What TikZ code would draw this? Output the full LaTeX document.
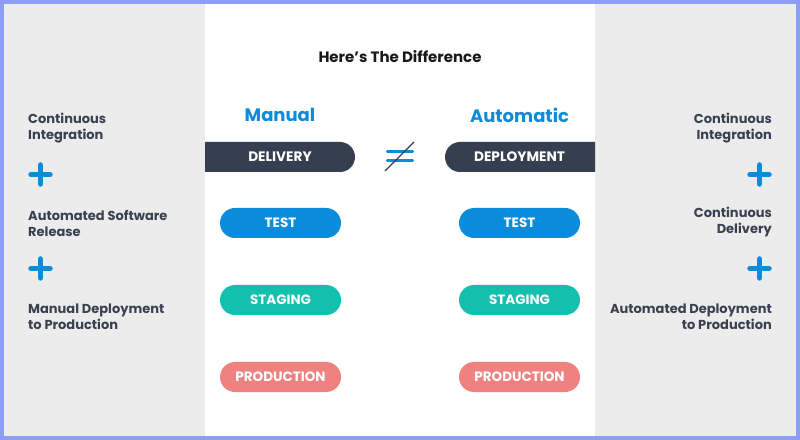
\documentclass[tikz,border=0pt]{standalone}
\usepackage{fontspec}
\setmainfont{Poppins}
\definecolor{bordercol}{HTML}{8E9EF6}
\definecolor{panelgray}{HTML}{ECECEC}
\definecolor{darkbar}{HTML}{363F4F}
\definecolor{labelcol}{HTML}{394150}
\definecolor{bluec}{HTML}{0B8CDB}
\definecolor{tealc}{HTML}{13BFAD}
\definecolor{salmonc}{HTML}{F08181}
\begin{document}
\begin{tikzpicture}[x=1bp,y=-1bp,
  lbl/.style={font=\bfseries\fontsize{13bp}{16bp}\selectfont, text=labelcol, inner sep=0pt},
  pilltext/.style={font=\bfseries\fontsize{13.7bp}{15bp}\selectfont, text=white, inner sep=0pt},
  pill/.style={rectangle, rounded corners=15bp, minimum width=121bp, minimum height=30bp, inner sep=0pt,
    font=\bfseries\fontsize{13.5bp}{15bp}\selectfont, text=white},
  head/.style={font=\bfseries\fontsize{18bp}{20bp}\selectfont, text=bluec, inner sep=0pt},
  plussign/.pic={\draw[bluec, line width=5.5bp, line cap=round] (-9.5,0) -- (9.5,0) (0,-9.5) -- (0,9.5);}
]
\useasboundingbox (0,0) rectangle (800,440);
\fill[bordercol] (0,0) rectangle (800,440);
\fill[white] (4,4) rectangle (796,436);
\fill[panelgray] (4,4) rectangle (205,436);
\fill[panelgray] (595,4) rectangle (796,436);

% title
\node[font=\bfseries\fontsize{15bp}{17bp}\selectfont, text=black!90, inner sep=0pt] (title) at (400,57) {Here’s The Difference};

% headings
\node[head] (manual) at (280,115) {Manual};
\node[head] (auto) at (519.5,115) {Automatic};

% delivery / deployment bars
\fill[darkbar] (205,142) [rounded corners=15bp] -- (355,142) -- (355,172) [sharp corners] -- (205,172) -- cycle;
\fill[darkbar] (595,142) [rounded corners=15bp] -- (445,142) -- (445,172) [sharp corners] -- (595,172) -- cycle;
\node[pilltext] (delivery) at (280,157) {DELIVERY};
\node[pilltext] (deployment) at (519.5,157) {DEPLOYMENT};

% not equal sign
\draw[bluec, line width=3.5bp, line cap=round] (387.5,151.5) -- (412.5,151.5) (387.5,160.5) -- (412.5,160.5);
\draw[darkbar, line width=1.3bp] (385,171) -- (414,142);

% pills
\node[pill, fill=bluec] (testL) at (280.5,223) {TEST};
\node[pill, fill=tealc] (stagL) at (280.5,300) {STAGING};
\node[pill, fill=salmonc] (prodL) at (280.5,377) {PRODUCTION};
\node[pill, fill=bluec] (testR) at (519.5,223) {TEST};
\node[pill, fill=tealc] (stagR) at (519.5,300) {STAGING};
\node[pill, fill=salmonc] (prodR) at (519.5,377) {PRODUCTION};

% left labels
\node[lbl, anchor=west, align=left] (l1) at (28,128.5) {Continuous\\Integration};
\pic at (40.5,174.5) {plussign};
\node[lbl, anchor=west, align=left] (l2) at (28,223) {Automated Software\\Release};
\pic at (40.5,268.5) {plussign};
\node[lbl, anchor=west, align=left] (l3) at (28,317) {Manual Deployment\\to Production};

% right labels
\node[lbl, anchor=east, align=right] (r1) at (772,128.5) {Continuous\\Integration};
\pic at (759.5,174.5) {plussign};
\node[lbl, anchor=east, align=right] (r2) at (772,222) {Continuous\\Delivery};
\pic at (759.5,268.5) {plussign};
\node[lbl, anchor=east, align=right] (r3) at (772,317) {Automated Deployment\\to Production};
\end{tikzpicture}
\end{document}
